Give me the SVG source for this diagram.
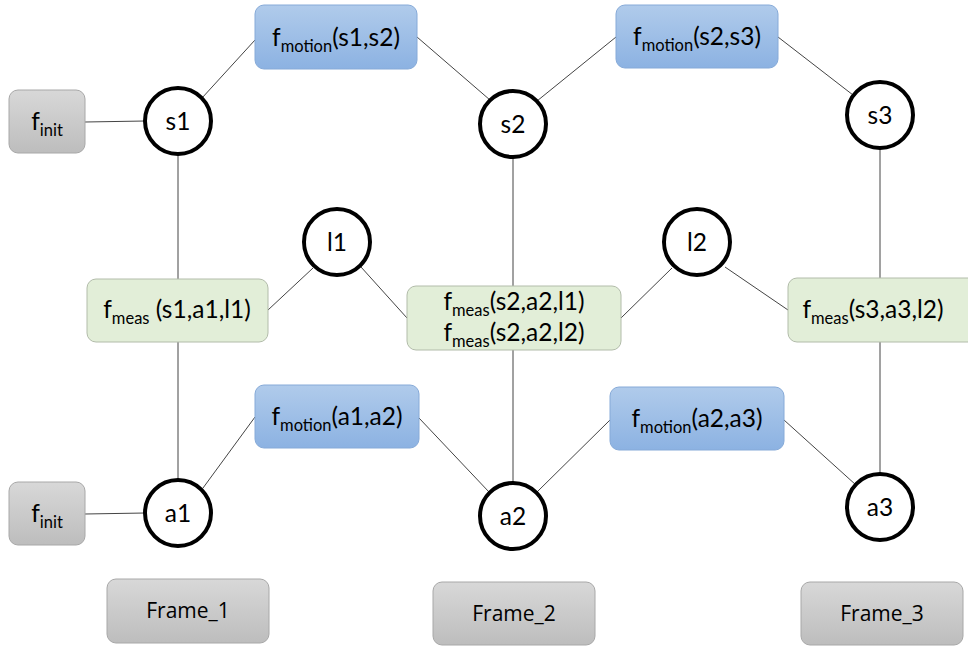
<svg xmlns="http://www.w3.org/2000/svg" width="968" height="646" viewBox="0 0 968 646">
<defs>
<linearGradient id="gBlue" x1="0" y1="0" x2="0" y2="1"><stop offset="0" stop-color="#b0cbeb"/><stop offset="1" stop-color="#8cb2e2"/></linearGradient>
<linearGradient id="gGray" x1="0" y1="0" x2="0" y2="1"><stop offset="0" stop-color="#d8d8d8"/><stop offset="1" stop-color="#bdbdbd"/></linearGradient>
<style>
.blue{fill:url(#gBlue);stroke:#86aad8;stroke-width:1}
.green{fill:#e2eed8;stroke:#b2bcaa;stroke-width:1}
.gray{fill:url(#gGray);stroke:#a8a8a8;stroke-width:1}
.var{fill:#fff;stroke:#000;stroke-width:4}
.t{font-family:Lato,"Open Sans","Liberation Sans",sans-serif;font-size:24.5px;fill:#000;text-anchor:middle}
.sub{font-size:16.5px}
.fr{font-family:"Open Sans","Liberation Sans",sans-serif;font-size:21px;fill:#000;text-anchor:middle}
.e{stroke:#444;stroke-width:1;fill:none}
</style>
</defs>
<rect width="968" height="646" fill="#fff"/>
<g id="connectors">
<line class="e" x1="85" y1="122" x2="145" y2="121"/>
<line class="e" x1="202" y1="98" x2="255" y2="40"/>
<line class="e" x1="417" y1="37" x2="490" y2="100"/>
<line class="e" x1="537" y1="101" x2="616" y2="37"/>
<line class="e" x1="778" y1="37" x2="853" y2="95"/>
<line class="e" x1="178" y1="154" x2="178" y2="279"/>
<line class="e" x1="178" y1="342" x2="178" y2="480"/>
<line class="e" x1="268" y1="310" x2="313" y2="268"/>
<line class="e" x1="361" y1="267" x2="407" y2="318"/>
<line class="e" x1="513" y1="157" x2="513" y2="286"/>
<line class="e" x1="513" y1="350" x2="513" y2="483"/>
<line class="e" x1="621" y1="318" x2="672" y2="268"/>
<line class="e" x1="725" y1="267" x2="788" y2="310"/>
<line class="e" x1="880" y1="148" x2="880" y2="278"/>
<line class="e" x1="880" y1="342" x2="880" y2="474"/>
<line class="e" x1="85" y1="514" x2="145" y2="513"/>
<line class="e" x1="203" y1="488" x2="255" y2="417"/>
<line class="e" x1="419" y1="418" x2="489" y2="492"/>
<line class="e" x1="537" y1="492" x2="610" y2="420"/>
<line class="e" x1="784" y1="420" x2="856" y2="485"/>
</g>
<g id="finit1"><rect class="gray" x="9" y="90" width="76" height="63" rx="9"/><text class="t" x="47" y="130">f<tspan class="sub" dy="6">init</tspan></text></g>
<g id="finit2"><rect class="gray" x="9" y="482" width="76" height="63" rx="9"/><text class="t" x="47" y="522">f<tspan class="sub" dy="6">init</tspan></text></g>
<g id="s1"><circle class="var" cx="178" cy="121" r="33"/><text class="t" x="178" y="130">s1</text></g>
<g id="s2"><circle class="var" cx="513" cy="124" r="33"/><text class="t" x="513" y="133">s2</text></g>
<g id="s3"><circle class="var" cx="880" cy="115" r="33"/><text class="t" x="880" y="124">s3</text></g>
<g id="l1"><circle class="var" cx="337" cy="242" r="33"/><text class="t" x="337" y="251">l1</text></g>
<g id="l2"><circle class="var" cx="697" cy="242" r="33"/><text class="t" x="697" y="251">l2</text></g>
<g id="a1"><circle class="var" cx="178" cy="513" r="33"/><text class="t" x="178" y="522">a1</text></g>
<g id="a2"><circle class="var" cx="513" cy="516" r="33"/><text class="t" x="513" y="525">a2</text></g>
<g id="a3"><circle class="var" cx="880" cy="507" r="33"/><text class="t" x="880" y="516">a3</text></g>
<g id="fmotion_s1s2"><rect class="blue" x="255" y="5" width="162" height="64" rx="9"/><text class="t" x="336" y="46">f<tspan class="sub" dy="6">motion</tspan><tspan dy="-6">(s1,s2)</tspan></text></g>
<g id="fmotion_s2s3"><rect class="blue" x="616" y="5" width="162" height="63" rx="9"/><text class="t" x="697" y="45">f<tspan class="sub" dy="6">motion</tspan><tspan dy="-6">(s2,s3)</tspan></text></g>
<g id="fmotion_a1a2"><rect class="blue" x="255" y="385" width="164" height="63" rx="9"/><text class="t" x="337" y="425">f<tspan class="sub" dy="6">motion</tspan><tspan dy="-6">(a1,a2)</tspan></text></g>
<g id="fmotion_a2a3"><rect class="blue" x="610" y="387" width="174" height="63" rx="9"/><text class="t" x="697" y="427">f<tspan class="sub" dy="6">motion</tspan><tspan dy="-6">(a2,a3)</tspan></text></g>
<g id="fmeas1"><rect class="green" x="87" y="279" width="181" height="63" rx="9"/><text class="t" x="177" y="318">f<tspan class="sub" dy="6">meas</tspan><tspan dy="-6"> (s1,a1,l1)</tspan></text></g>
<g id="fmeas2"><rect class="green" x="407" y="286" width="214" height="64" rx="9"/><text class="t" x="514" y="310">f<tspan class="sub" dy="6">meas</tspan><tspan dy="-6">(s2,a2,l1)</tspan></text><text class="t" x="514" y="341">f<tspan class="sub" dy="6">meas</tspan><tspan dy="-6">(s2,a2,l2)</tspan></text></g>
<g id="fmeas3"><rect class="green" x="788" y="278" width="190" height="64" rx="9"/><text class="t" x="873" y="318">f<tspan class="sub" dy="6">meas</tspan><tspan dy="-6">(s3,a3,l2)</tspan></text></g>
<g id="frame1"><rect class="gray" x="107" y="579" width="162" height="64" rx="9"/><text class="fr" x="188" y="618">Frame_1</text></g>
<g id="frame2"><rect class="gray" x="433" y="582" width="162" height="63" rx="9"/><text class="fr" x="514" y="621">Frame_2</text></g>
<g id="frame3"><rect class="gray" x="801" y="582" width="162" height="63" rx="9"/><text class="fr" x="882" y="621">Frame_3</text></g>
</svg>
